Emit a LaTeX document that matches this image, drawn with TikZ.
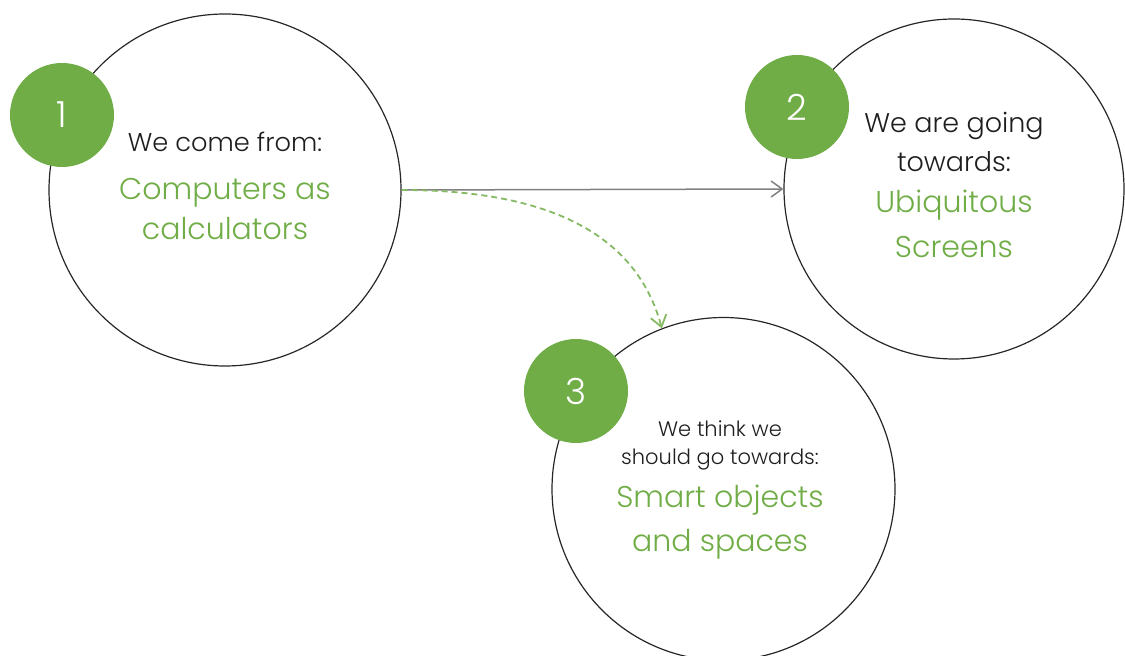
\documentclass[tikz,border=0pt]{standalone}
\usepackage{fontspec}
\IfFontExistsTF{Poppins Light}{\setmainfont{Poppins Light}}{\setmainfont{Poppins}}
\usepackage{tikz}
\usetikzlibrary{arrows.meta}
\definecolor{leaf}{RGB}{112,173,71}
\definecolor{ink}{RGB}{30,30,30}

\begin{document}
\begin{tikzpicture}[x=1pt,y=1pt,
  stage/.style={circle,draw=black!85,line width=1.2pt,minimum size=#1,inner sep=0pt},
  badge/.style={circle,fill=leaf,minimum size=104pt,inner sep=0pt,text=white,font=\fontsize{36}{36}\selectfont},
  intro/.style={anchor=base,text=ink,font=\fontsize{#1}{#1}\selectfont},
  goal/.style={anchor=base,text=leaf,font=\fontsize{#1}{#1}\selectfont}]
\useasboundingbox (0,0) rectangle (1125,656);
% the three stages
\node[stage=352pt] (from) at (225,466) {};
\node[stage=340pt] (to) at (954,467) {};
\node[stage=343pt] (should) at (723.5,167) {};
% numbers
\node[badge] (n1) at (62,541) {1};
\node[badge] (n2) at (797,549) {2};
\node[badge] (n3) at (576,265) {3};
% texts
\node[intro=25.7] (from1) at (225,504) {We come from:};
\node[goal=30] (from2) at (225,456) {Computers as};
\node[goal=30] (from3) at (225,416) {calculators};
\node[intro=27] (to1) at (954,523) {We are going};
\node[intro=27] (to2) at (954,484) {towards:};
\node[goal=30] (to3) at (954,443) {Ubiquitous};
\node[goal=30] (to4) at (954,398) {Screens};
\node[intro=21] (should1) at (720,219) {We think we};
\node[intro=21] (should2) at (720,191) {should go towards:};
\node[goal=30] (should3) at (720,148) {Smart objects};
\node[goal=30] (should4) at (720,104) {and spaces};
% arrows
\draw[black!50,line width=1.5pt,-{Straight Barb[length=11pt,width=16pt]}] (from.east) -- (to.west);
\draw[leaf!85,line width=1.8pt,dash pattern=on 6pt off 4pt,-{Straight Barb[length=11pt,width=16pt]}]
  (from.east) to[out=0,in=105] (should.111);
\end{tikzpicture}
\end{document}
